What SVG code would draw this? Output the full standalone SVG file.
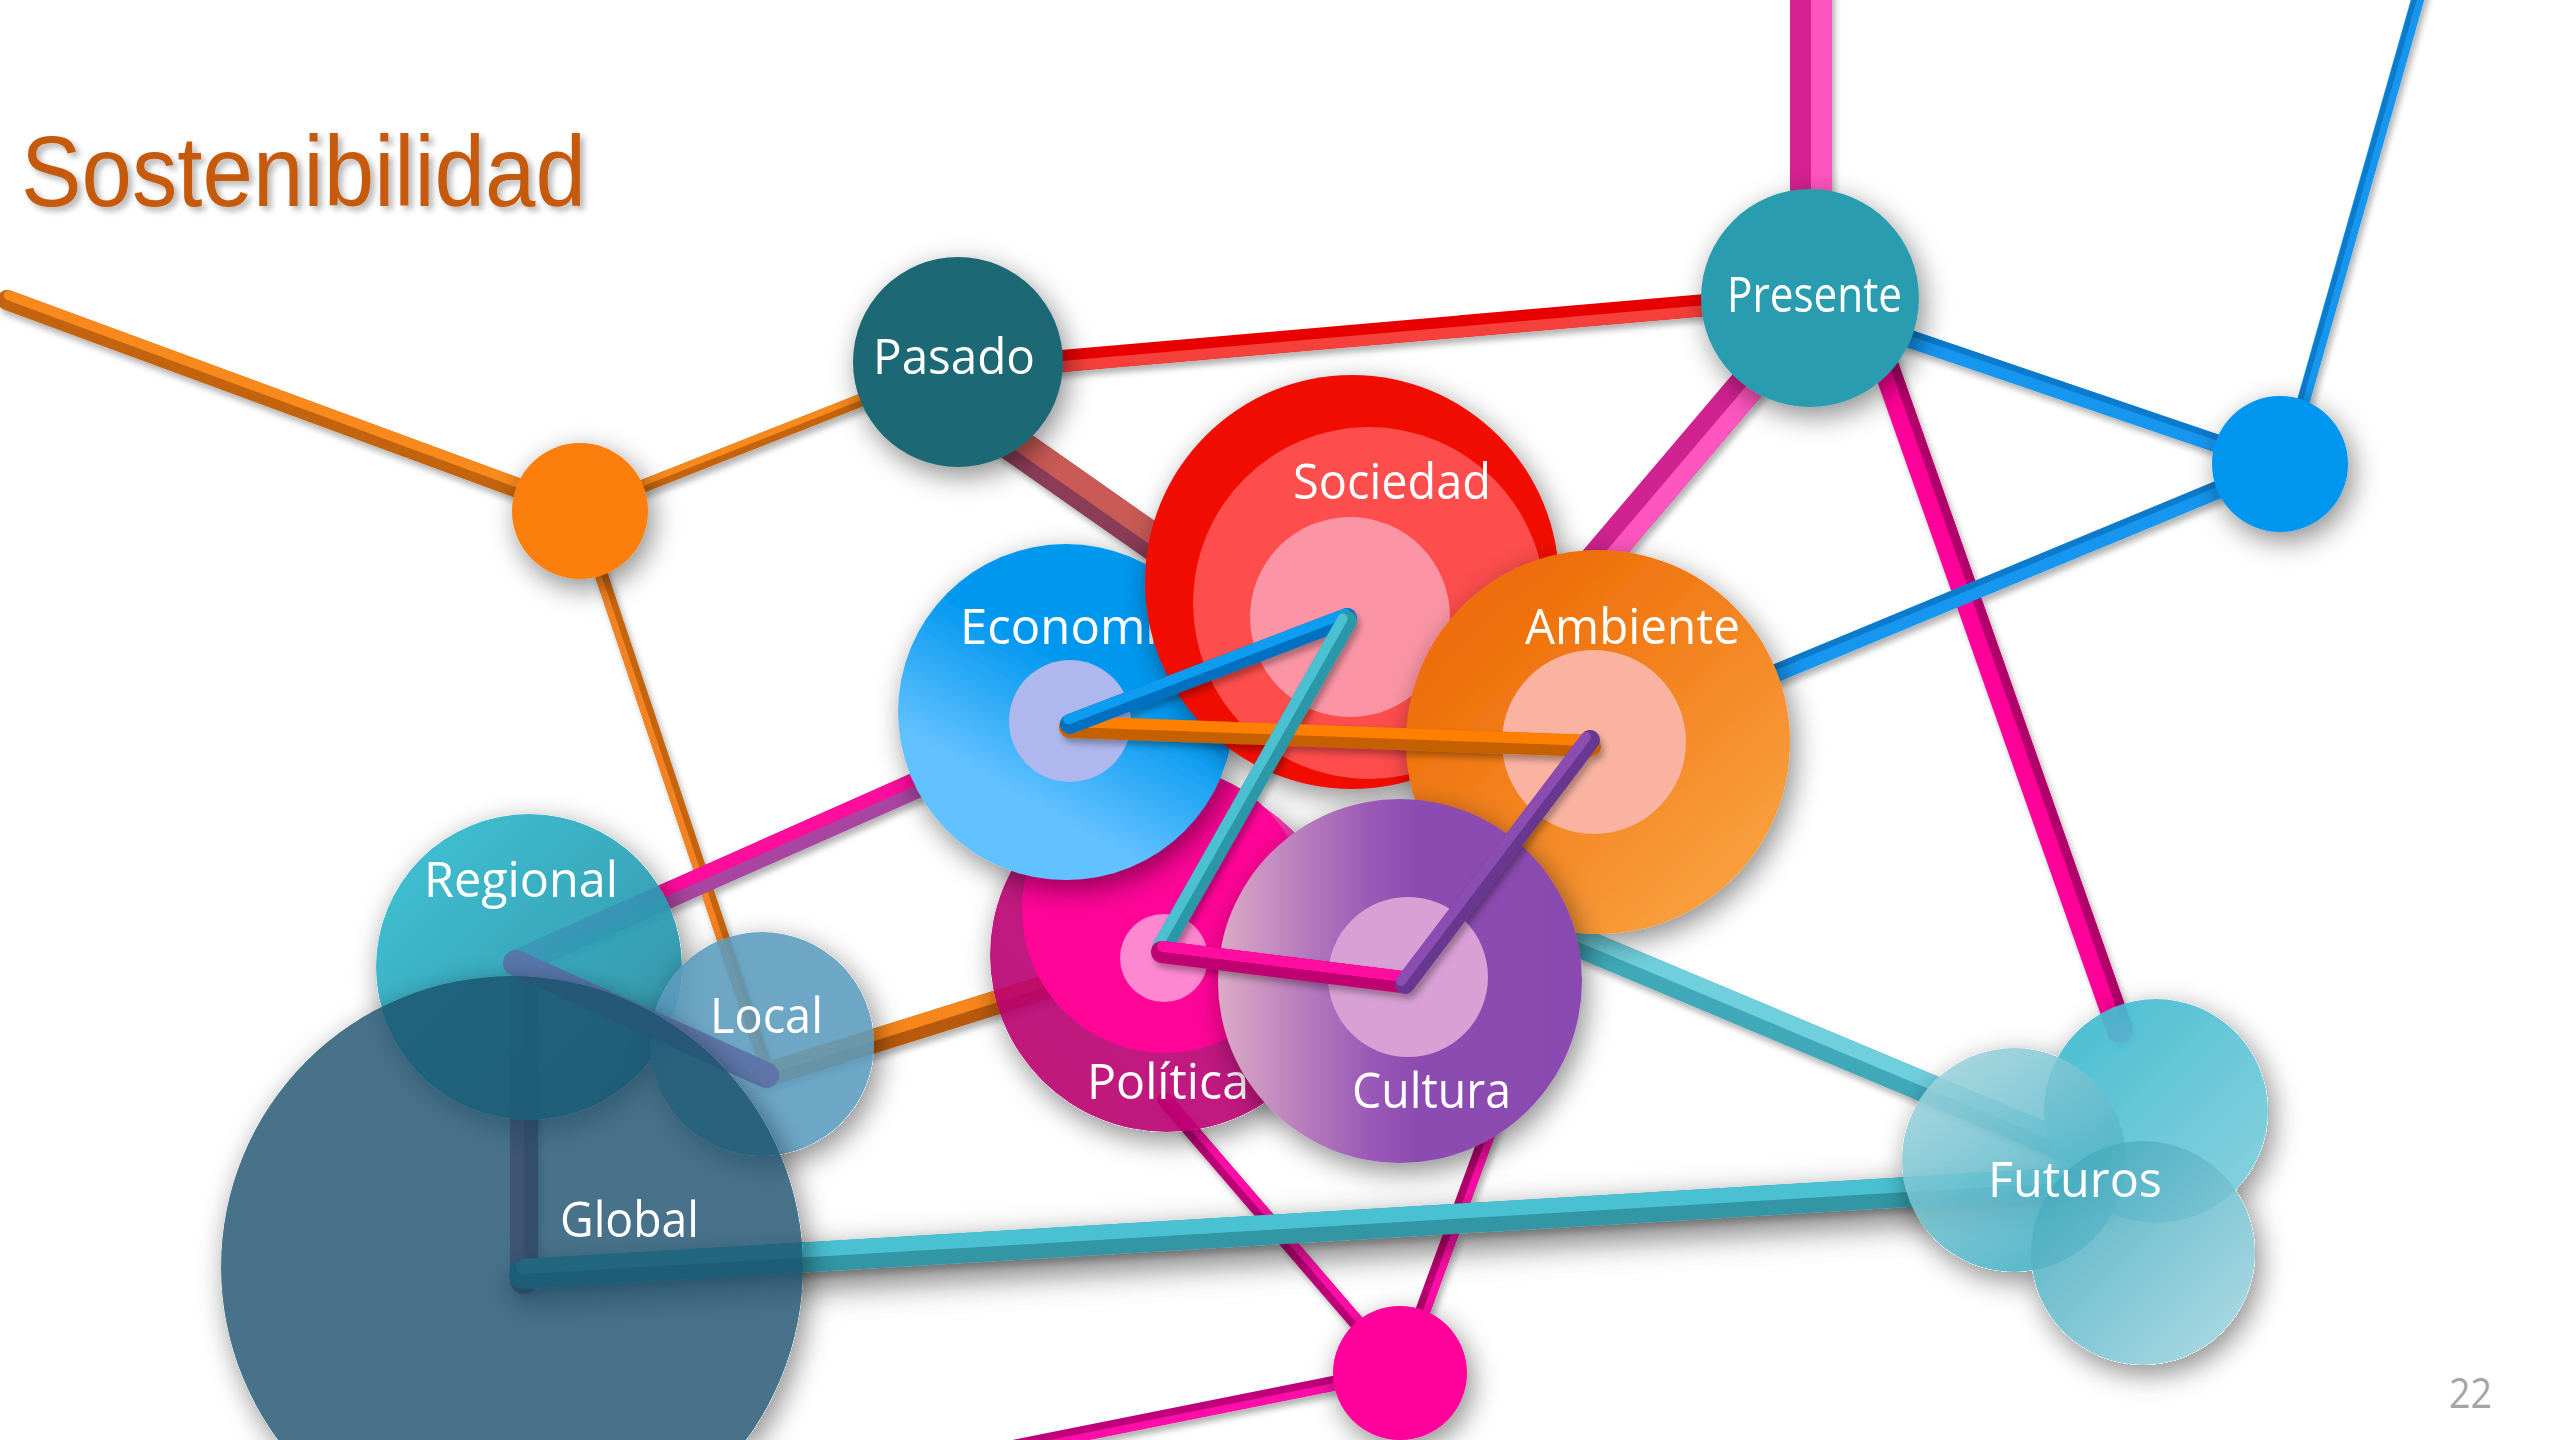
<svg xmlns="http://www.w3.org/2000/svg" width="2560" height="1440" viewBox="0 0 2560 1440">
<defs>
<style>
.lbl{font-family:"Open Sans","DejaVu Sans",sans-serif;font-size:49px;fill:#FFFFFF;}
line{stroke-linecap:round;}
</style>
<filter id="ns" filterUnits="userSpaceOnUse" x="0" y="0" width="2560" height="1440"><feDropShadow dx="5" dy="9" stdDeviation="14" flood-color="#000" flood-opacity="0.45"/></filter>
<filter id="nso" filterUnits="userSpaceOnUse" x="0" y="0" width="2560" height="1440">
<feComponentTransfer in="SourceAlpha" result="a"><feFuncA type="linear" slope="20"/></feComponentTransfer>
<feGaussianBlur in="a" stdDeviation="14" result="b"/>
<feOffset in="b" dx="5" dy="9" result="o"/>
<feFlood flood-color="#000" flood-opacity="0.45"/>
<feComposite in2="o" operator="in" result="s"/>
<feComposite in="s" in2="a" operator="out" result="so"/>
<feMerge><feMergeNode in="so"/><feMergeNode in="SourceGraphic"/></feMerge>
</filter>
<filter id="ls" filterUnits="userSpaceOnUse" x="0" y="0" width="2560" height="1440"><feDropShadow dx="3" dy="5" stdDeviation="3" flood-color="#000" flood-opacity="0.3"/></filter>
<filter id="bs" filterUnits="userSpaceOnUse" x="0" y="0" width="2560" height="1440"><feDropShadow dx="0" dy="12" stdDeviation="16" flood-color="#000" flood-opacity="0.5"/></filter>
<filter id="ts" filterUnits="userSpaceOnUse" x="0" y="0" width="2560" height="1440"><feDropShadow dx="4" dy="4" stdDeviation="3" flood-color="#000" flood-opacity="0.3"/></filter>
<linearGradient id="gEco" x1="0.62" y1="0.42" x2="0.42" y2="0.78"><stop offset="0" stop-color="#0398EF"/><stop offset="1" stop-color="#62C1FF"/></linearGradient>
<linearGradient id="gAmb" x1="0.2" y1="0.2" x2="0.85" y2="0.9"><stop offset="0" stop-color="#EE6E08"/><stop offset="1" stop-color="#FAA040"/></linearGradient>
<linearGradient id="gCul" x1="0" y1="0.5" x2="1" y2="0.5"><stop offset="0" stop-color="#DCAAC6"/><stop offset="0.42" stop-color="#9A58B6"/><stop offset="0.55" stop-color="#8C4CB0"/><stop offset="1" stop-color="#8A4AB0"/></linearGradient>
<linearGradient id="gReg" x1="0.1" y1="0.1" x2="0.9" y2="0.9"><stop offset="0" stop-color="#30BACE"/><stop offset="1" stop-color="#268BA2"/></linearGradient>
<linearGradient id="gPol" x1="0.9" y1="0.1" x2="0.2" y2="0.8"><stop offset="0" stop-color="#EE2AA6"/><stop offset="0.4" stop-color="#BB0A76"/><stop offset="1" stop-color="#B9006F"/></linearGradient>
<linearGradient id="gFA" x1="0.2" y1="0.1" x2="0.9" y2="0.8"><stop offset="0" stop-color="#42BBD0"/><stop offset="1" stop-color="#78CCDA"/></linearGradient>
<linearGradient id="gFB" x1="0.2" y1="0.1" x2="0.8" y2="0.9"><stop offset="0" stop-color="#98D0DA"/><stop offset="1" stop-color="#3EADC2"/></linearGradient>
<linearGradient id="gFC" x1="0.1" y1="0.1" x2="0.9" y2="0.9"><stop offset="0" stop-color="#42A9BD"/><stop offset="1" stop-color="#9CD3DE"/></linearGradient>
</defs>
<rect width="2560" height="1440" fill="#FFFFFF"/>

<g id="title" filter="url(#ts)"><text x="21" y="206" font-family="'Liberation Sans',Arial,sans-serif" font-size="100" fill="#C55A11" textLength="565" lengthAdjust="spacingAndGlyphs">Sostenibilidad</text></g>

<g id="connectors" filter="url(#ls)">
<g><line x1="7" y1="300" x2="580" y2="511" stroke="#C4640B" stroke-width="20"/><line x1="7" y1="300" x2="580" y2="511" stroke="#F8891C" stroke-width="10" transform="translate(1.7,-4.7)"/></g>
<g><line x1="580" y1="511" x2="958" y2="362" stroke="#C4640B" stroke-width="13"/><line x1="580" y1="511" x2="958" y2="362" stroke="#F8891C" stroke-width="6.5" transform="translate(-1.2,-3)"/></g>
<g><line x1="580" y1="511" x2="768" y2="1072" stroke="#C4650D" stroke-width="13"/><line x1="580" y1="511" x2="768" y2="1072" stroke="#F58220" stroke-width="6.5" transform="translate(-3.1,1)"/></g>
<g><line x1="958" y1="370" x2="1810" y2="296" stroke="#E80000" stroke-width="22"/><line x1="958" y1="370" x2="1810" y2="296" stroke="#F5403A" stroke-width="11" transform="translate(0.48,5.5)"/></g>
<g><line x1="975" y1="417" x2="1300" y2="645" stroke="#8B3E58" stroke-width="36"/><line x1="975" y1="417" x2="1300" y2="645" stroke="#C95A57" stroke-width="22" transform="translate(4,-5.7)"/></g>
<g><line x1="1811" y1="-20" x2="1811" y2="300" stroke="#D42392" stroke-width="42"/><line x1="1811" y1="-20" x2="1811" y2="300" stroke="#FF55C0" stroke-width="21" transform="translate(10.5,0)"/></g>
<g><line x1="1821" y1="298" x2="1450" y2="735" stroke="#D02090" stroke-width="36"/><line x1="1821" y1="298" x2="1450" y2="735" stroke="#FF55BF" stroke-width="18" transform="translate(6.9,5.8)"/></g>
<g><line x1="1850" y1="265" x2="2120" y2="1030" stroke="#FF0598" stroke-width="26"/><line x1="1850" y1="265" x2="2120" y2="1030" stroke="#B0006A" stroke-width="9" transform="translate(8,-2.8)"/></g>
<g><line x1="1810" y1="305" x2="2280" y2="465" stroke="#1296EE" stroke-width="18"/><line x1="1810" y1="305" x2="2280" y2="465" stroke="#0A7ACC" stroke-width="6" transform="translate(1.9,-5.7)"/></g>
<g><line x1="2298" y1="420" x2="2422" y2="-16" stroke="#1296EE" stroke-width="13"/><line x1="2298" y1="420" x2="2422" y2="-16" stroke="#0A7ACC" stroke-width="5" transform="translate(-3.1,-0.9)"/></g>
<g><line x1="2280" y1="464" x2="1598" y2="747" stroke="#1296EE" stroke-width="18"/><line x1="2280" y1="464" x2="1598" y2="747" stroke="#0A7ACC" stroke-width="6" transform="translate(-2.3,-5.5)"/></g>
<g><line x1="1540" y1="926" x2="2110" y2="1165" stroke="#40A9B9" stroke-width="30"/><line x1="1540" y1="926" x2="2110" y2="1165" stroke="#6FCFDC" stroke-width="15" transform="translate(2.9,-6.9)"/></g>
<g><line x1="524" y1="963" x2="524" y2="1280" stroke="#A04A70" stroke-width="28"/><line x1="524" y1="963" x2="524" y2="1280" stroke="#D06A88" stroke-width="14" transform="translate(-7,0)"/></g>
<g><line x1="516" y1="963" x2="1068" y2="718" stroke="#A845A0" stroke-width="26"/><line x1="516" y1="963" x2="1068" y2="718" stroke="#FF0A9D" stroke-width="13" transform="translate(-2.6,-5.9)"/></g>
<g><line x1="766" y1="1075" x2="1164" y2="950" stroke="#B85A0C" stroke-width="24"/><line x1="766" y1="1075" x2="1164" y2="950" stroke="#F7861A" stroke-width="12" transform="translate(-1.8,-5.7)"/></g>
<g><line x1="1165" y1="1100" x2="1400" y2="1373" stroke="#BE0078" stroke-width="15"/><line x1="1165" y1="1100" x2="1400" y2="1373" stroke="#FF10A8" stroke-width="7.5" transform="translate(2.8,-2.4)"/></g>
<g><line x1="1500" y1="1100" x2="1400" y2="1373" stroke="#B8006E" stroke-width="15"/><line x1="1500" y1="1100" x2="1400" y2="1373" stroke="#FF10A8" stroke-width="7.5" transform="translate(3.5,1.3)"/></g>
<g><line x1="1400" y1="1370" x2="990" y2="1452" stroke="#C0007A" stroke-width="15"/><line x1="1400" y1="1370" x2="990" y2="1452" stroke="#FF10A8" stroke-width="7.5" transform="translate(0.7,3.7)"/></g>
<g filter="url(#bs)"><line x1="524" y1="1274" x2="2110" y2="1180" stroke="#3196A5" stroke-width="30"/><line x1="524" y1="1274" x2="2110" y2="1180" stroke="#4AC1D3" stroke-width="15" transform="translate(-0.44,-7.5)"/></g>
</g>

<g id="node-orange" filter="url(#ns)"><circle cx="580" cy="511" r="68" fill="#FC7F07"/></g>
<g id="node-pasado"><circle cx="958" cy="362" r="105" fill="#1E6974" filter="url(#ns)"/><text class="lbl" x="873" y="374" font-size="50" textLength="162" lengthAdjust="spacingAndGlyphs">Pasado</text></g>
<g id="node-presente"><circle cx="1810" cy="298" r="109" fill="#2C9CAF" filter="url(#ns)"/><text class="lbl" x="1727" y="312" font-size="44" textLength="175" lengthAdjust="spacingAndGlyphs">Presente</text></g>
<g id="node-blue" filter="url(#ns)"><circle cx="2280" cy="464" r="68" fill="#0396F0"/></g>
<g id="node-magenta" filter="url(#ns)"><circle cx="1400" cy="1373" r="67" fill="#FF049B"/></g>

<g id="node-regional"><circle cx="529" cy="967" r="153" fill="url(#gReg)" fill-opacity="0.93" filter="url(#nso)"/></g>
<g id="node-local"><circle cx="762" cy="1044" r="112" fill="rgb(90,155,190)" fill-opacity="0.88" filter="url(#nso)"/></g>
<g id="connector-regional-local"><line x1="516" y1="963" x2="766" y2="1075" stroke="#5C72A8" stroke-opacity="0.9" stroke-width="26"/></g>
<g id="node-global"><circle cx="512" cy="1267" r="291" fill="rgb(29,80,108)" fill-opacity="0.8" filter="url(#nso)"/>
<text class="lbl" x="560" y="1237" textLength="139" lengthAdjust="spacingAndGlyphs">Global</text></g>
<g id="labels-regional-local"><text class="lbl" x="424" y="897" textLength="194" lengthAdjust="spacingAndGlyphs">Regional</text>
<text class="lbl" x="710" y="1033" textLength="113" lengthAdjust="spacingAndGlyphs">Local</text></g>

<g id="node-politica"><circle cx="1167" cy="955" r="177" fill="url(#gPol)" fill-opacity="0.9" filter="url(#nso)"/>
<circle cx="1165" cy="910" r="143" fill="#FF0598"/>
<circle cx="1164" cy="958" r="44" fill="#FD88CF"/>
<text class="lbl" x="1087" y="1099" textLength="162" lengthAdjust="spacingAndGlyphs">Política</text></g>

<g id="node-economia"><circle cx="1066" cy="712" r="168" fill="url(#gEco)" filter="url(#ns)"/>
<circle cx="1070" cy="721" r="61" fill="#AEB8EE"/>
<text class="lbl" x="960" y="644" textLength="225" lengthAdjust="spacingAndGlyphs">Economía</text></g>

<g id="node-sociedad"><circle cx="1352" cy="582" r="207" fill="#F00A00" filter="url(#ns)"/>
<circle cx="1369" cy="603" r="176" fill="#FD4D4D"/>
<circle cx="1350" cy="617" r="100" fill="#FB95A5"/>
<text class="lbl" x="1293" y="499" textLength="198" lengthAdjust="spacingAndGlyphs">Sociedad</text></g>

<g id="node-ambiente"><circle cx="1598" cy="742" r="192" fill="url(#gAmb)" filter="url(#ns)"/>
<circle cx="1594" cy="742" r="92" fill="#F9B3A0"/>
<text class="lbl" x="1525" y="644" textLength="215" lengthAdjust="spacingAndGlyphs">Ambiente</text></g>

<g id="node-cultura"><circle cx="1400" cy="981" r="182" fill="url(#gCul)" filter="url(#ns)"/>
<circle cx="1408" cy="977" r="80" fill="#D8A0D4"/>
<text class="lbl" x="1352" y="1108" textLength="159" lengthAdjust="spacingAndGlyphs">Cultura</text></g>

<g id="node-futuros"><g filter="url(#nso)"><circle cx="2156" cy="1111" r="112" fill="url(#gFA)" fill-opacity="0.93"/>
<circle cx="2014" cy="1160" r="112" fill="url(#gFB)" fill-opacity="0.88"/>
<circle cx="2143" cy="1253" r="112" fill="url(#gFC)" fill-opacity="0.88"/></g>
<text class="lbl" x="1988" y="1197" textLength="174" lengthAdjust="spacingAndGlyphs">Futuros</text></g>

<g id="connectors-inner" filter="url(#ls)">
<g><line x1="1070" y1="727" x2="1590" y2="746" stroke="#C46000" stroke-width="22"/><line x1="1070" y1="727" x2="1590" y2="746" stroke="#FF8000" stroke-width="11" transform="translate(0.2,-5.5)"/></g>
<g><line x1="1070" y1="724" x2="1347" y2="618" stroke="#0470C0" stroke-width="20"/><line x1="1070" y1="724" x2="1347" y2="618" stroke="#0A9CF0" stroke-width="10" transform="translate(-1.8,-4.7)"/></g>
<g><line x1="1347" y1="621" x2="1162" y2="948" stroke="#2C98A9" stroke-width="20"/><line x1="1347" y1="621" x2="1162" y2="948" stroke="#4BC0D0" stroke-width="10" transform="translate(-4.35,-2.5)"/></g>
<g><line x1="1162" y1="952" x2="1402" y2="982" stroke="#BE0070" stroke-width="22"/><line x1="1162" y1="952" x2="1402" y2="982" stroke="#FF0AA0" stroke-width="11" transform="translate(0.7,-5.5)"/></g>
<g><line x1="1405" y1="984" x2="1590" y2="740" stroke="#683890" stroke-width="20"/><line x1="1405" y1="984" x2="1590" y2="740" stroke="#8C4DB2" stroke-width="10" transform="translate(-4,-3)"/></g>
</g>

<g id="page-number"><text x="2449" y="1408" font-family="'Open Sans','DejaVu Sans',sans-serif" font-size="42" fill="#A5A5A5" textLength="43" lengthAdjust="spacingAndGlyphs">22</text></g>
</svg>
